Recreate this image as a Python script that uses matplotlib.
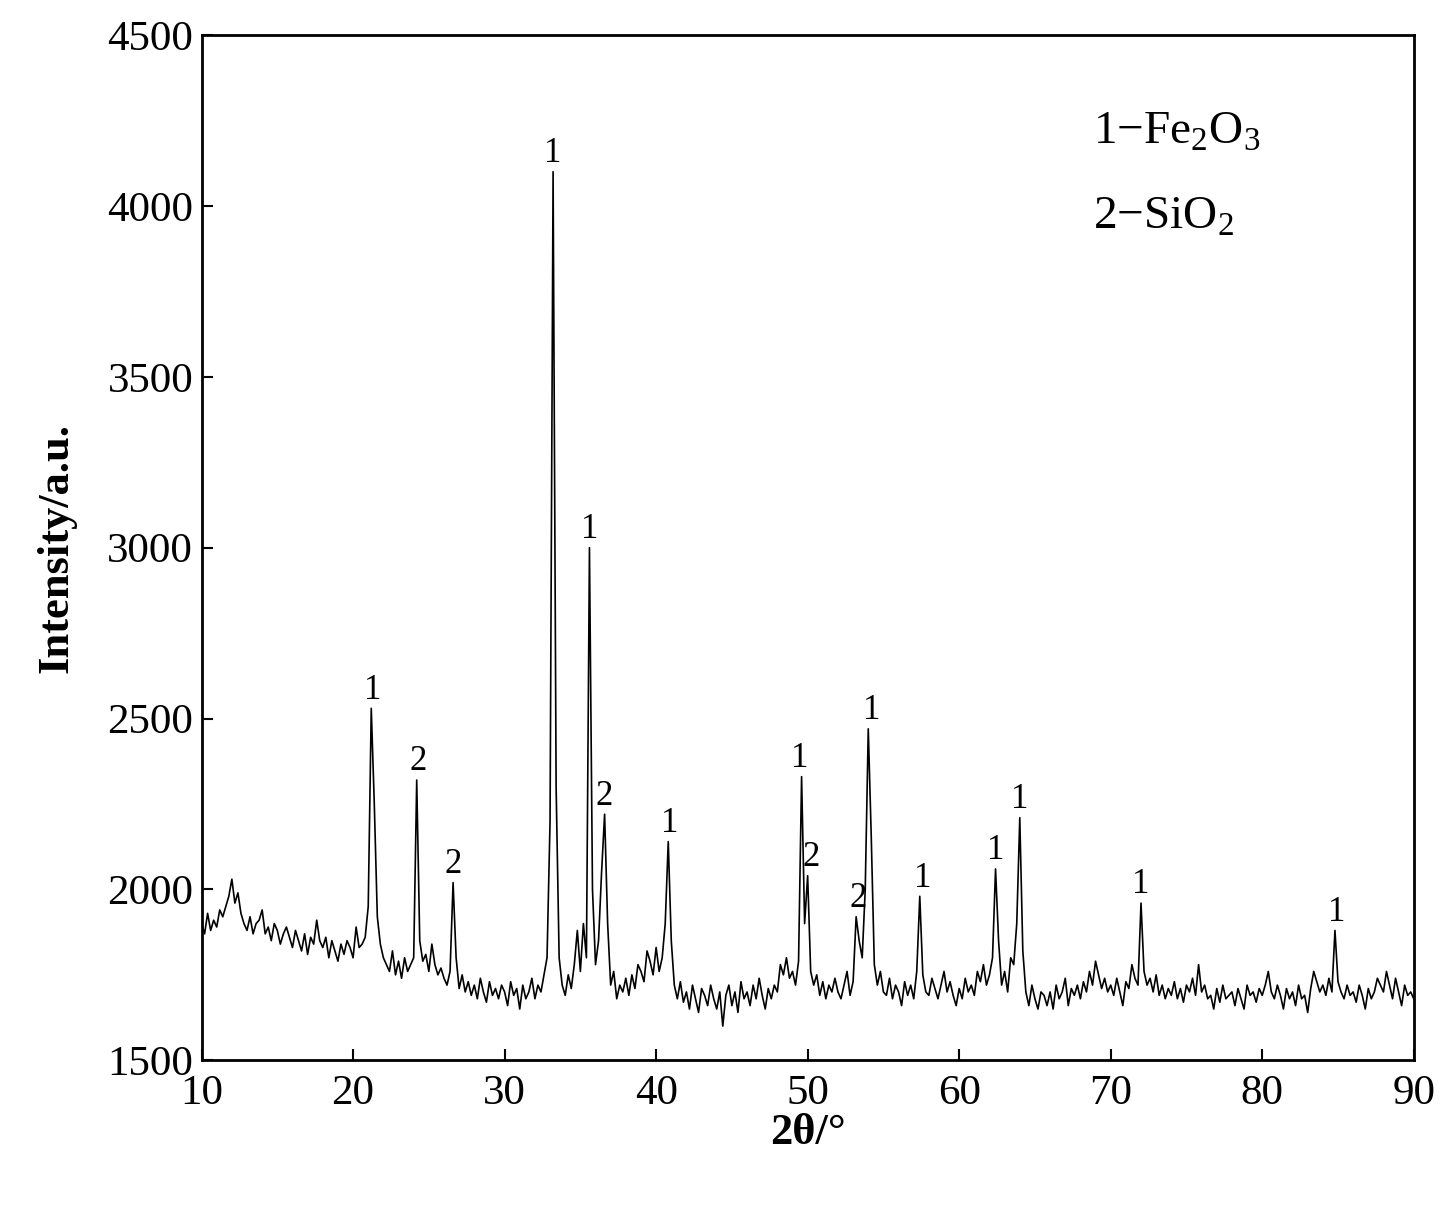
import numpy as np
import matplotlib
matplotlib.use("Agg")
import matplotlib.pyplot as plt

plt.rcParams['font.family'] = ['Liberation Serif', 'DejaVu Serif']
plt.rcParams['mathtext.fontset'] = 'custom'
plt.rcParams['mathtext.rm'] = 'Liberation Serif'

intensity = [
1900,1870,1930,1880,1910,1890,1940,1920,1950,1980,
2030,1960,1990,1930,1900,1880,1920,1870,1900,1910,
1940,1870,1890,1850,1900,1880,1840,1870,1890,1860,
1830,1880,1850,1820,1870,1810,1860,1840,1910,1850,
1830,1860,1800,1850,1820,1790,1840,1810,1850,1830,
1800,1890,1830,1840,1860,1950,2530,2250,1920,1840,
1800,1780,1760,1820,1750,1790,1740,1800,1760,1780,
1800,2320,1850,1790,1810,1760,1840,1780,1750,1770,
1740,1720,1760,2020,1800,1710,1750,1700,1730,1690,
1720,1680,1740,1700,1670,1730,1690,1710,1680,1720,
1700,1660,1730,1690,1710,1650,1720,1680,1700,1740,
1680,1720,1700,1750,1800,2200,4100,2300,1800,1720,
1690,1750,1710,1780,1880,1760,1900,1800,3000,2000,
1780,1850,2050,2220,1900,1720,1760,1680,1720,1700,
1740,1690,1750,1710,1780,1760,1730,1820,1790,1750,
1830,1760,1800,1900,2140,1850,1720,1680,1730,1670,
1700,1650,1720,1680,1640,1710,1690,1660,1720,1680,
1650,1700,1600,1690,1720,1660,1700,1640,1730,1680,
1700,1660,1720,1680,1740,1690,1650,1710,1680,1720,
1700,1780,1750,1800,1740,1760,1720,1790,2330,1900,
2040,1760,1720,1750,1690,1730,1680,1720,1700,1740,
1700,1680,1720,1760,1690,1730,1920,1850,1800,2000,
2470,2150,1780,1720,1760,1700,1690,1740,1680,1720,
1700,1660,1730,1690,1720,1680,1760,1980,1750,1700,
1690,1740,1710,1680,1720,1760,1700,1730,1690,1660,
1710,1680,1740,1700,1720,1690,1760,1730,1780,1720,
1750,1800,2060,1850,1720,1760,1700,1800,1780,1900,
2210,1820,1700,1660,1720,1680,1650,1700,1690,1660,
1700,1650,1720,1680,1700,1740,1660,1710,1690,1720,
1680,1730,1700,1760,1720,1790,1750,1710,1740,1700,
1720,1690,1740,1700,1660,1730,1710,1780,1740,1720,
1960,1760,1720,1740,1700,1750,1690,1720,1680,1710,
1690,1730,1680,1710,1670,1720,1700,1740,1690,1780,
1700,1720,1680,1690,1650,1710,1670,1720,1680,1690,
1700,1660,1710,1680,1650,1720,1690,1700,1670,1710,
1690,1720,1760,1700,1680,1720,1690,1650,1710,1680,
1700,1660,1720,1680,1690,1640,1710,1760,1730,1700,
1720,1690,1740,1700,1880,1730,1700,1680,1720,1690,
1700,1670,1720,1690,1650,1710,1680,1700,1740,1720,
1700,1760,1720,1680,1740,1700,1660,1720,1690,1700,
1680]
two_theta = np.linspace(10, 90, len(intensity))

peak_x = [21.3, 24.3, 26.6, 33.2, 35.6, 36.6, 40.9, 49.5, 50.2, 53.3, 54.2, 57.6, 62.4, 64.0, 72.0, 84.9]
peak_y = [2530, 2320, 2020, 4100, 3000, 2220, 2140, 2330, 2040, 1920, 2470, 1980, 2060, 2210, 1960, 1880]
peak_lab = ['1', '2', '2', '1', '1', '2', '1', '1', '2', '2', '1', '1', '1', '1', '1', '1']

fig = plt.figure(figsize=(14.5, 12.09), dpi=100)
ax = fig.add_axes([0.139, 0.123, 0.836, 0.848])
ax.plot(two_theta, intensity, color='black', lw=1.2)
for x, y, l in zip(peak_x, peak_y, peak_lab):
    ax.text(x, y + 5, l, ha='center', va='bottom', fontsize=25)
ax.set_xlim(10, 90)
ax.set_ylim(1500, 4500)
ax.set_xticks(range(10, 91, 10))
ax.set_yticks(range(1500, 4501, 500))
ax.tick_params(labelsize=31, direction='in', length=8, width=1.5)
ax.tick_params(axis='x', pad=10)
ax.tick_params(axis='y', pad=6)
for s in ax.spines.values():
    s.set_linewidth(2)
ax.set_xlabel('2θ/°', fontsize=32, fontweight='bold', labelpad=0)
ax.set_ylabel('Intensity/a.u.', fontsize=32, fontweight='bold', labelpad=22)
ax.text(0.735, 0.905, r'1$-$Fe$_2$O$_3$', transform=ax.transAxes, fontsize=34, va='center')
ax.text(0.735, 0.822, r'2$-$SiO$_2$', transform=ax.transAxes, fontsize=34, va='center')
fig.savefig('out.png')
